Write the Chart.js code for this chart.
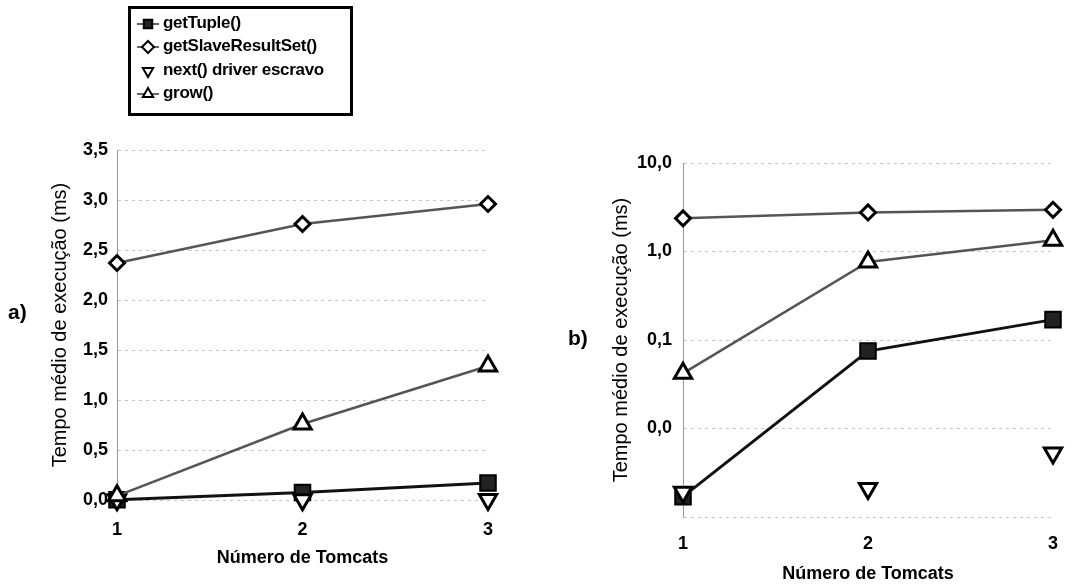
<html>
<head>
<title>Tempo medio de execucao</title>
<script src="https://cdn.jsdelivr.net/npm/chart.js@4/dist/chart.umd.min.js"></script>
<style>
  body { margin: 0; background: #fff; font-family: 'Liberation Sans', Arial, sans-serif; }
  #wrap { position: relative; width: 1078px; height: 586px; overflow: hidden; }
  canvas.chart { position: absolute; top: 0; }
  #legend { position: absolute; left: 128px; top: 6px; width: 225px; height: 110px; border: 3px solid #000; box-sizing: border-box; }
  #legend .row { position: absolute; left: 4px; height: 22px; font: bold 17px 'Liberation Sans', Arial, sans-serif; letter-spacing: -0.3px; color: #000; white-space: nowrap; }
  #legend .row canvas { vertical-align: middle; margin-right: 2px; }
  .tag { position: absolute; font: bold 21px 'Liberation Sans', Arial, sans-serif; }
</style>
</head>
<body>
<div id="wrap">
  <canvas class="chart" id="chartA" width="540" height="586" style="left:0"></canvas>
  <canvas class="chart" id="chartB" width="538" height="586" style="left:540px"></canvas>
  <div id="legend"></div>
  <div class="tag" style="left:8px;top:300px">a)</div>
  <div class="tag" style="left:568px;top:326px">b)</div>
</div>
<script>
var categories = ['1', '2', '3'];
var getTuple = [0.0017, 0.075, 0.17];
var getSlaveResultSet = [2.37, 2.76, 2.96];
var nextDriver = [0.0019, 0.0021, 0.0053];
var grow = [0.042, 0.76, 1.34];

var seriesNames = ['getTuple()', 'getSlaveResultSet()', 'next() driver escravo', 'grow()'];
var linearTicks = [0, 0.5, 1, 1.5, 2, 2.5, 3, 3.5];
var logTicks = [0.001, 0.01, 0.1, 1, 10];

function fmt(v) {
	return v.toFixed(1).replace('.', ',');
}

function makeDatasets() {
	return [{
			label: seriesNames[0],
			data: getTuple,
			borderColor: '#111',
			borderWidth: 3,
			pointStyle: 'rect',
			pointRadius: 11,
			pointBackgroundColor: '#222',
			pointBorderColor: '#000',
			pointBorderWidth: 2,
			clip: false,
			order: 3
		},
		{
			label: seriesNames[1],
			data: getSlaveResultSet,
			borderColor: '#555',
			borderWidth: 2.5,
			pointStyle: 'rectRot',
			pointRadius: 7.5,
			pointBackgroundColor: '#fff',
			pointBorderColor: '#000',
			pointBorderWidth: 3,
			clip: false,
			order: 2
		},
		{
			label: seriesNames[2],
			data: nextDriver,
			showLine: false,
			borderColor: '#000',
			pointStyle: 'triangle',
			pointRotation: 180,
			pointRadius: 10,
			pointBackgroundColor: '#fff',
			pointBorderColor: '#000',
			pointBorderWidth: 3,
			clip: false,
			order: 1
		},
		{
			label: seriesNames[3],
			data: grow,
			borderColor: '#555',
			borderWidth: 2.5,
			pointStyle: 'triangle',
			pointRadius: 10,
			pointBackgroundColor: '#fff',
			pointBorderColor: '#000',
			pointBorderWidth: 3,
			clip: false,
			order: 0
		}
	];
}

var tickFont = { family: "'Liberation Sans', Arial, sans-serif", size: 18, weight: 'bold' };
var yTitleFont = { family: "'Liberation Sans', Arial, sans-serif", size: 20 };
var xTitleFont = { family: "'Liberation Sans', Arial, sans-serif", size: 18, weight: 'bold' };

function baseOptions(yScale, pad, yWidth, xHeight, xTickPad, xTitlePad) {
	return {
		responsive: false,
		animation: false,
		layout: { padding: pad },
		plugins: { legend: { display: false }, tooltip: { enabled: false } },
		scales: {
			x: {
				grid: { display: false },
				border: { display: false },
				ticks: { color: '#000', font: tickFont, padding: xTickPad, maxRotation: 0 },
				title: { display: true, text: 'Número de Tomcats', color: '#000', font: xTitleFont, padding: xTitlePad },
				afterFit: function(s) { s.height = xHeight; }
			},
			y: Object.assign({
				grid: { color: '#c4c4c4', lineWidth: 1, drawTicks: false },
				border: { display: true, color: '#999', width: 1, dash: [3, 4] },
				title: { display: true, text: 'Tempo médio de execução (ms)', color: '#000', font: yTitleFont, padding: 4 },
				afterFit: function(s) { s.width = yWidth; }
			}, yScale)
		}
	};
}

new Chart(document.getElementById('chartA'), {
	type: 'line',
	data: { labels: categories, datasets: makeDatasets() },
	options: baseOptions({
		type: 'linear',
		min: 0,
		max: 3.5,
		afterBuildTicks: function(s) { s.ticks = linearTicks.map(function(v) { return { value: v }; }); },
		ticks: { color: '#000', font: tickFont, padding: 9, callback: function(v) { return fmt(v); } }
	}, { top: 150, right: 52, bottom: 13, left: 44 }, 73, 73, 11, 4)
});

new Chart(document.getElementById('chartB'), {
	type: 'line',
	data: { labels: categories, datasets: makeDatasets() },
	options: baseOptions({
		type: 'logarithmic',
		min: 0.001,
		max: 10,
		afterBuildTicks: function(s) { s.ticks = logTicks.map(function(v) { return { value: v }; }); },
		ticks: { color: '#000', font: tickFont, padding: 11, callback: function(v) { return v < 0.005 ? '' : fmt(v); } }
	}, { top: 163, right: 25, bottom: 1, left: 65 }, 78, 68, 8, 0)
});

// legend built from the same series
var legendSets = makeDatasets();
var legend = document.getElementById('legend');
var rowTops = [4, 27, 51, 74];
legendSets.forEach(function(ds, i) {
	var row = document.createElement('div');
	row.className = 'row';
	row.style.top = rowTops[i] + 'px';
	var cv = document.createElement('canvas');
	cv.width = 26;
	cv.height = 16;
	var ctx = cv.getContext('2d');
	if (ds.showLine !== false) {
		ctx.strokeStyle = '#333';
		ctx.lineWidth = 1.5;
		ctx.beginPath();
		ctx.moveTo(2, 8);
		ctx.lineTo(24, 8);
		ctx.stroke();
	}
	ctx.fillStyle = ds.pointBackgroundColor;
	ctx.strokeStyle = ds.pointBorderColor;
	ctx.lineWidth = 2;
	Chart.helpers.drawPoint(ctx, {
		pointStyle: ds.pointStyle,
		rotation: ds.pointRotation || 0,
		radius: 6,
		borderWidth: 2.5
	}, 13, 8);
	row.appendChild(cv);
	row.appendChild(document.createTextNode(ds.label));
	legend.appendChild(row);
});
</script>
</body>
</html>
